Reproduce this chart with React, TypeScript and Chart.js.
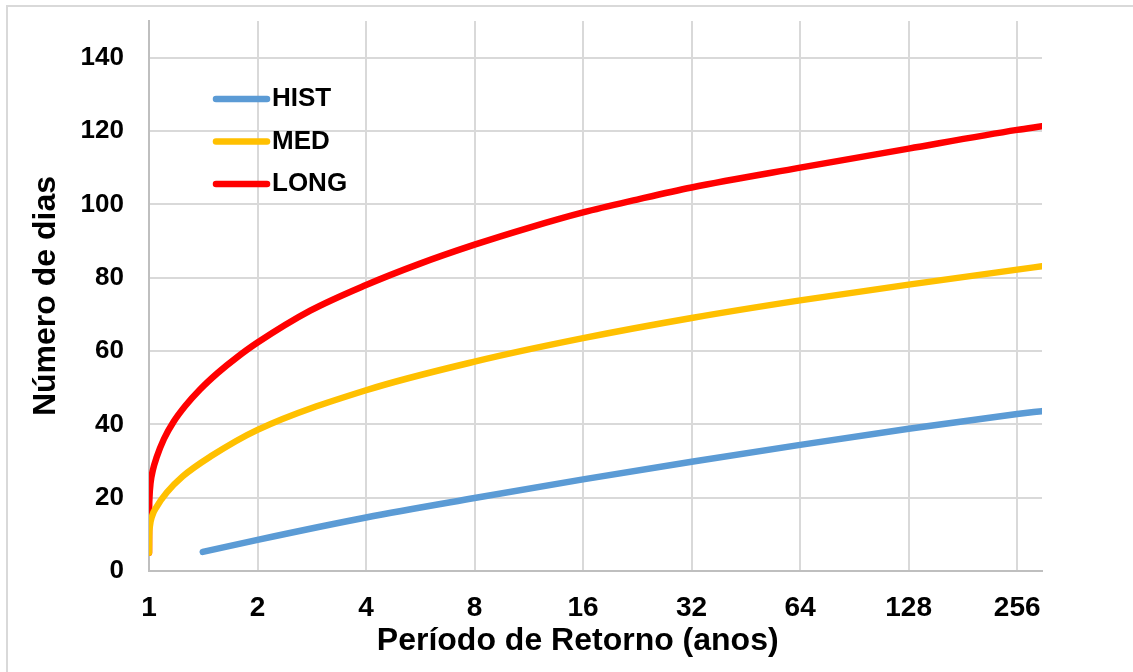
import React, { useEffect, useRef } from 'react';
import { Chart, registerables } from 'chart.js';

Chart.register(...registerables);

// ---- data ----
const X_TICKS = [1, 2, 4, 8, 16, 32, 64, 128, 256];
const Y_TICKS = [0, 20, 40, 60, 80, 100, 120, 140];
const SERIES_LABELS = ['HIST', 'MED', 'LONG'];

const HIST_T = [1.41, 2, 4, 8, 16, 32, 64, 128, 256, 300];
const HIST_D = [5.2, 8.5, 14.6, 19.9, 25.0, 29.8, 34.4, 38.8, 42.8, 43.6];

const MED_T = [1, 1.001, 1.005, 1.02, 1.05, 1.12, 1.24, 1.48, 2, 4, 8, 16, 32, 64, 128, 256, 300];
const MED_D = [5, 9, 12, 15, 17.5, 21.4, 25.8, 31.2, 38.5, 49.3, 57.1, 63.5, 69, 73.8, 78.1, 82.2, 83.1];

const LONG_T = [1, 1.0005, 1.003, 1.01, 1.025, 1.05, 1.1, 1.17, 1.26, 1.385, 1.55, 1.75, 2, 2.8, 4, 5.6, 8, 11.3, 16, 22.6, 32, 64, 128, 256, 300];
const LONG_D = [5, 14, 20, 24, 27.5, 31, 36, 40.7, 45, 49.5, 54, 58.2, 62.3, 71, 78, 83.7, 89, 93.6, 97.8, 101.3, 104.6, 110, 115.2, 120.3, 121.3];

const SERIES_COLORS = ['#5B9BD5', '#FFC000', '#FF0000'];

const X_TITLE = 'Período de Retorno (anos)';
const Y_TITLE = 'Número de dias';

const FONT = "'Liberation Sans', Arial, Helvetica, sans-serif";

export default function App() {
  const ref = useRef<HTMLCanvasElement>(null);

  useEffect(() => {
    if (!ref.current) return;
    const toPts = (t: number[], d: number[]) => t.map((x, i) => ({ x, y: d[i] }));

    const legendPlugin = {
      id: 'insideLegend',
      afterDraw(chart: any) {
        const ctx = chart.ctx as CanvasRenderingContext2D;
        const area = chart.chartArea;
        ctx.save();
        chart.data.datasets.forEach((ds: any, i: number) => {
          const y = area.top + 78 + i * 42.5;
          const x0 = area.left + 67;
          ctx.strokeStyle = ds.borderColor;
          ctx.lineWidth = 6.5;
          ctx.lineCap = 'round';
          ctx.beginPath();
          ctx.moveTo(x0, y);
          ctx.lineTo(x0 + 51, y);
          ctx.stroke();
          ctx.fillStyle = '#000';
          ctx.font = `bold 26px ${FONT}`;
          ctx.textBaseline = 'middle';
          ctx.textAlign = 'left';
          ctx.fillText(ds.label, x0 + 56, y);
        });
        ctx.restore();
      },
    };

    const datasets = [
      { label: SERIES_LABELS[0], data: toPts(HIST_T, HIST_D), borderColor: SERIES_COLORS[0] },
      { label: SERIES_LABELS[1], data: toPts(MED_T, MED_D), borderColor: SERIES_COLORS[1] },
      { label: SERIES_LABELS[2], data: toPts(LONG_T, LONG_D), borderColor: SERIES_COLORS[2] },
    ].map((d) => ({
      ...d,
      backgroundColor: d.borderColor,
      borderWidth: 6.5,
      pointRadius: 0,
      fill: false,
      cubicInterpolationMode: 'monotone' as const,
      borderCapStyle: 'round' as const,
      borderJoinStyle: 'round' as const,
    }));

    const chart = new Chart(ref.current, {
      type: 'line',
      data: { datasets },
      plugins: [legendPlugin],
      options: {
        animation: false,
        responsive: false,
        maintainAspectRatio: false,
        devicePixelRatio: 1,
        layout: { padding: { left: 0, top: 21, right: 91, bottom: 0 } },
        plugins: { legend: { display: false }, tooltip: { enabled: false } },
        scales: {
          x: {
            type: 'logarithmic',
            min: 1,
            max: 300,
            afterBuildTicks: (s: any) => {
              s.ticks = X_TICKS.map((v) => ({ value: v }));
            },
            afterFit: (s: any) => {
              s.height = 101;
              s.paddingLeft = 0;
              s.paddingRight = 0;
            },
            ticks: {
              callback: (v: any) => String(v),
              font: { family: FONT, size: 28, weight: 'bold' },
              color: '#000',
              padding: 20,
              maxRotation: 0,
              autoSkip: false,
            },
            grid: { color: '#D9D9D9', lineWidth: 2, drawTicks: false },
            border: { color: '#BFBFBF', width: 2 },
            title: {
              display: true,
              text: X_TITLE + '    ',
              font: { family: FONT, size: 32, weight: 'bold' },
              color: '#000',
              padding: { top: 0, bottom: 12 },
            },
          },
          y: {
            type: 'linear',
            min: 0,
            max: 150,
            afterBuildTicks: (s: any) => {
              s.ticks = Y_TICKS.map((v) => ({ value: v }));
            },
            afterFit: (s: any) => {
              s.width = 149;
              s.paddingTop = 0;
              s.paddingBottom = 0;
            },
            ticks: {
              font: { family: FONT, size: 26, weight: 'bold' },
              color: '#000',
              padding: 25,
            },
            grid: { color: '#D9D9D9', lineWidth: 2, drawTicks: false },
            border: { color: '#BFBFBF', width: 2 },
            title: {
              display: true,
              text: Y_TITLE,
              font: { family: FONT, size: 32, weight: 'bold' },
              color: '#000',
              padding: { top: 27, bottom: 0 },
            },
          },
        },
      } as any,
    });

    return () => chart.destroy();
  }, []);

  return (
    <div
      style={{
        position: 'fixed',
        left: 0,
        top: 0,
        width: 1133,
        height: 672,
        overflow: 'hidden',
        background: '#fff',
      }}
    >
      <div
        style={{
          position: 'absolute',
          left: 6,
          top: 5,
          width: 1200,
          height: 800,
          border: '2px solid #D9D9D9',
        }}
      />
      <canvas
        ref={ref}
        width={1133}
        height={672}
        style={{ position: 'absolute', left: 0, top: 0, width: 1133, height: 672 }}
      />
    </div>
  );
}
